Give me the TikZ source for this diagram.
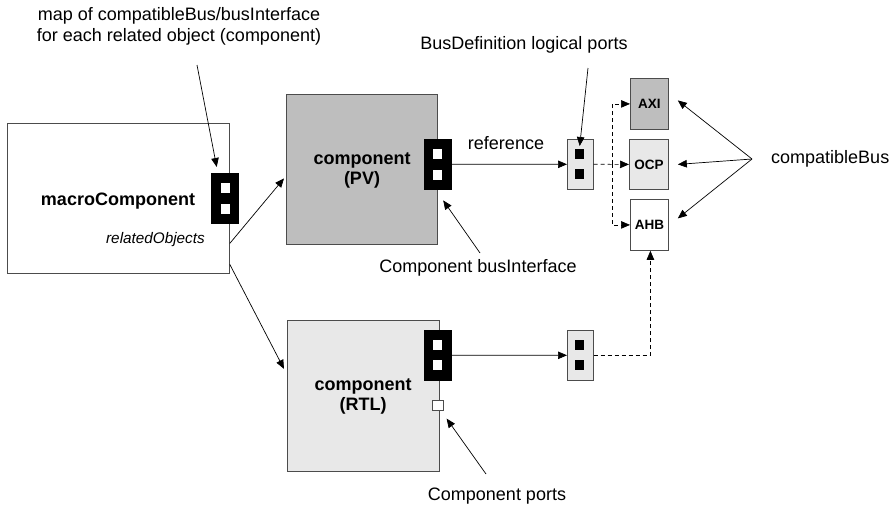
\documentclass[tikz,border=0pt]{standalone}
\usepackage{fontspec}
\setmainfont{Liberation Sans}
\usetikzlibrary{arrows.meta}
\definecolor{pvgray}{RGB}{190,190,190}
\definecolor{lightgray}{RGB}{232,232,232}
\tikzset{
  box/.style={draw=black!70, line width=0.8pt, inner sep=0pt, anchor=north west},
  bifc/.style={fill=black, draw=black, inner sep=0pt, anchor=north west, minimum width=27pt, minimum height=50pt},
  wsq/.style={fill=white, draw=none, inner sep=0pt, anchor=north west, minimum width=9pt, minimum height=10pt},
  bsq/.style={fill=black, draw=none, inner sep=0pt, anchor=north west, minimum width=9pt, minimum height=10pt},
  lbl/.style={font=\fontsize{18}{20}\selectfont, align=center, inner sep=0pt},
  blbl/.style={font=\fontsize{18}{20}\selectfont\bfseries, align=center, inner sep=0pt},
  buslbl/.style={font=\fontsize{13.5}{15}\selectfont\bfseries, inner sep=0pt},
  arr/.style={-{Triangle[length=9pt,width=7.5pt]}, line width=0.7pt},
  darr/.style={arr, dash pattern=on 4pt off 3pt},
}
\begin{document}
\begin{tikzpicture}[x=1pt, y=-1pt]
\useasboundingbox (0,0) rectangle (894,509);

% macroComponent with its bus interface
\node[box, minimum width=222pt, minimum height=150pt] (macro) at (7,123) {};
\node[bifc] (macroBI) at (211,173) {};
\node[wsq] at (221,183) {};
\node[wsq] at (221,203.5) {};
\node[blbl] (macroTxt) at (118,201) {macroComponent};
\node[font=\fontsize{15.3}{18}\selectfont\itshape, inner sep=0pt, anchor=east] (relObj) at (205,240) {relatedObjects};

% component (PV)
\node[box, fill=pvgray, minimum width=151pt, minimum height=150pt] (PV) at (286,94) {};
\node[bifc] (pvBI) at (424,139) {};
\node[wsq] at (433,149) {};
\node[wsq] at (433,169.5) {};
\node[blbl] (pvTxt) at (362,170) {component\\(PV)};

% component (RTL)
\node[box, fill=lightgray, minimum width=152pt, minimum height=151pt] (RTL) at (287,320) {};
\node[bifc] (rtlBI) at (424,330) {};
\node[wsq] at (433,340) {};
\node[wsq] at (433,359.5) {};
\node[box, fill=white, minimum width=11pt, minimum height=10pt, line width=0.6pt] (rtlPort) at (432,400) {};
\node[blbl] (rtlTxt) at (363,396) {component\\(RTL)};

% BusDefinition logical ports
\node[box, fill=lightgray, minimum width=26pt, minimum height=50pt, line width=0.6pt] (lp1) at (567,139) {};
\node[bsq] (lp1a) at (575,149) {};
\node[bsq] (lp1b) at (575,169) {};
\node[box, fill=lightgray, minimum width=26pt, minimum height=50pt, line width=0.6pt] (lp2) at (567,330) {};
\node[bsq] (lp2a) at (575,340) {};
\node[bsq] (lp2b) at (575,359.5) {};

% bus definitions
\node[box, fill=pvgray, minimum width=38pt, minimum height=51pt] (AXI) at (630,78) {};
\node[buslbl] at (AXI.center) {AXI};
\node[box, fill=lightgray, minimum width=39pt, minimum height=50pt] (OCP) at (629,139) {};
\node[buslbl] at (OCP.center) {OCP};
\node[box, fill=white, minimum width=38pt, minimum height=51pt] (AHB) at (630,199) {};
\node[buslbl] at (AHB.center) {AHB};

% annotations
\node[lbl, font=\fontsize{18}{21}\selectfont] (mapTxt) at (179,26) {map of compatibleBus/busInterface\\for each related object (component)};
\node[lbl] (refTxt) at (506,143) {reference};
\node[lbl] (cbiTxt) at (478,268) {Component busInterface};
\node[lbl] (bdTxt) at (524,45) {BusDefinition logical ports};
\node[lbl, anchor=west] (cbTxt) at (771,159) {compatibleBus};
\node[lbl] (cpTxt) at (497,496) {Component ports};

% helper points for the pointers
\coordinate (mapTail) at (197,65);
\coordinate (bdTail) at (588,68);
\coordinate (cbiTail) at (480,253);
\coordinate (cpTail) at (486,474);
\coordinate (cbJn) at ([xshift=-19pt]cbTxt.west);
\coordinate (dashJn) at (612,164);

% relatedObjects connectors
\draw[arr] ([yshift=-45pt]macro.east) -- ([xshift=-2pt,yshift=-9pt]PV.west);
\draw[arr] ([yshift=-66pt]macro.east) -- ([xshift=-3pt,yshift=27pt]RTL.west);

% reference connectors
\draw[arr] (pvBI.east) -- (lp1.west);
\draw[arr] (rtlBI.east) -- (lp2.west);

% dashed links from logical ports to bus definitions
\draw[darr] (lp1.east) -- (OCP.west);
\draw[darr] (dashJn) |- (AXI.west);
\draw[darr] (dashJn) |- (AHB.west);
\draw[darr] (lp2.east) -| ([xshift=1pt]AHB.south);

% compatibleBus pointers
\draw[arr] (cbJn) -- ([xshift=9pt,yshift=3.5pt]AXI.east);
\draw[arr] (cbJn) -- ([xshift=9pt]OCP.east);
\draw[arr] (cbJn) -- ([xshift=9pt,yshift=6.5pt]AHB.east);

% annotation pointers
\draw[arr] (mapTail) -- ([xshift=-8pt,yshift=6pt]macroBI.north);
\draw[arr] (bdTail) -- ([yshift=3pt]lp1a.north);
\draw[arr] (cbiTail) -- ([xshift=5.5pt,yshift=-11pt]pvBI.south);
\draw[arr] (cpTail) -- ([xshift=3pt,yshift=-8pt]rtlPort.south east);
\end{tikzpicture}
\end{document}
